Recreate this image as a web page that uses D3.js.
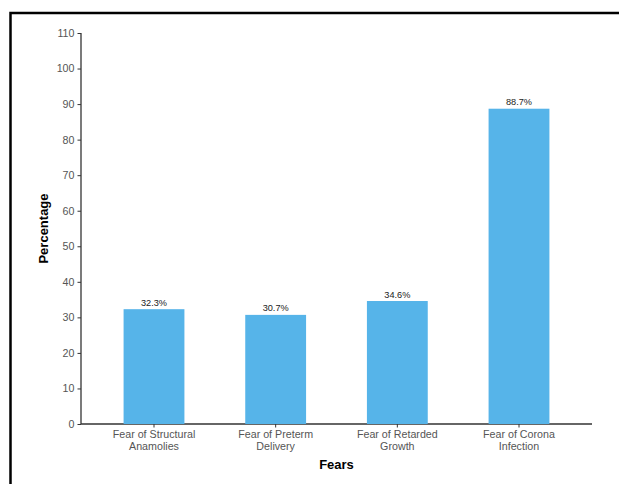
<!DOCTYPE HTML>
<html>
<head>
  <style>
  body {
    margin: 0;
    background: #fff;
    font-family: 'Liberation Sans', Arial, sans-serif;
  }
  .axis path,
  .axis line {
    stroke: #333;
  }
  .axis text {
    fill: #555;
    font-size: 10.7px;
    font-family: 'Liberation Sans', Arial, sans-serif;
  }
  </style>
  <script src="https://d3js.org/d3.v7.min.js"></script>
</head>
<body>
  <script type="text/javascript">
  var categories = [
    ['Fear of Structural', 'Anamolies'],
    ['Fear of Preterm', 'Delivery'],
    ['Fear of Retarded', 'Growth'],
    ['Fear of Corona', 'Infection']
  ];
  var percentages = [32.3, 30.7, 34.6, 88.7];
  var yTicks = [0, 10, 20, 30, 40, 50, 60, 70, 80, 90, 100, 110];

  (function() {
    'use strict';
    var data = categories.map(function(c, i) {
      return {key: c.join(' '), lines: c, value: percentages[i]};
    });

    var width = 619,
        height = 484,
        plotLeft = 81,
        plotRight = 592,
        plotTop = 33,
        plotBottom = 424;

    var svg = d3.select('body')
                .append('svg')
                .attr('width', width)
                .attr('height', height);

    // frame of the screenshot (top and left edges only)
    svg.append('path')
       .attr('d', 'M10.5,' + height + 'V13H' + width)
       .attr('fill', 'none')
       .attr('stroke', '#000')
       .attr('stroke-width', 2.5);

    var x_scale = d3.scaleBand()
                    .domain(data.map(function(d) { return d.key; }))
                    .range([plotLeft, plotRight])
                    .paddingInner(0.5)
                    .paddingOuter(0.35);
    var y_scale = d3.scaleLinear()
                    .domain([0, 110])
                    .range([plotBottom, plotTop]);

    var y_axis = d3.axisLeft(y_scale).tickValues(yTicks).tickSize(3.5).tickPadding(3);
    var x_axis = d3.axisBottom(x_scale).tickSize(3.5).tickSizeOuter(0).tickFormat('');

    var yg = svg.append('g')
       .attr('class', 'y axis')
       .attr('transform', 'translate(' + plotLeft + ',0)')
       .call(y_axis);
    yg.select('.domain').attr('d', 'M0,' + plotTop + 'V' + plotBottom).attr('stroke-width', 1.3);

    var xg = svg.append('g')
       .attr('class', 'x axis')
       .attr('transform', 'translate(0,' + plotBottom + ')')
       .call(x_axis);
    xg.select('.domain').attr('d', 'M' + plotLeft + ',0H' + plotRight).attr('stroke-width', 1.3);

    // category labels on two lines
    xg.selectAll('.cat')
      .data(data)
      .enter()
      .append('text')
      .attr('class', 'cat')
      .attr('text-anchor', 'middle')
      .attr('fill', '#555')
      .each(function(d) {
        var cx = x_scale(d.key) + x_scale.bandwidth() / 2;
        d3.select(this).selectAll('tspan')
          .data(d.lines)
          .enter()
          .append('tspan')
          .attr('x', cx)
          .attr('y', function(t, i) { return 14 + i * 12; })
          .text(function(t) { return t; });
      });

    svg.selectAll('rect.bar')
       .data(data)
       .enter()
       .append('rect')
       .attr('class', 'bar')
       .attr('x', function(d) { return x_scale(d.key); })
       .attr('y', function(d) { return y_scale(d.value); })
       .attr('width', x_scale.bandwidth())
       .attr('height', function(d) { return plotBottom - y_scale(d.value); })
       .attr('fill', '#56b4e9');

    svg.selectAll('text.val')
       .data(data)
       .enter()
       .append('text')
       .attr('class', 'val')
       .attr('text-anchor', 'middle')
       .attr('font-size', '9.2px')
       .attr('fill', '#222')
       .attr('x', function(d) { return x_scale(d.key) + x_scale.bandwidth() / 2; })
       .attr('y', function(d) { return y_scale(d.value) - 3.5; })
       .text(function(d) { return d.value + '%'; });

    svg.append('text')
       .attr('text-anchor', 'middle')
       .attr('font-weight', 'bold')
       .attr('font-size', '13px')
       .attr('x', (plotLeft + plotRight) / 2)
       .attr('y', 469)
       .text('Fears');

    svg.append('text')
       .attr('text-anchor', 'middle')
       .attr('font-weight', 'bold')
       .attr('font-size', '13px')
       .attr('transform', 'translate(48,' + ((plotTop + plotBottom) / 2) + ') rotate(-90)')
       .text('Percentage');
  })();
  </script>
</body>
</html>
